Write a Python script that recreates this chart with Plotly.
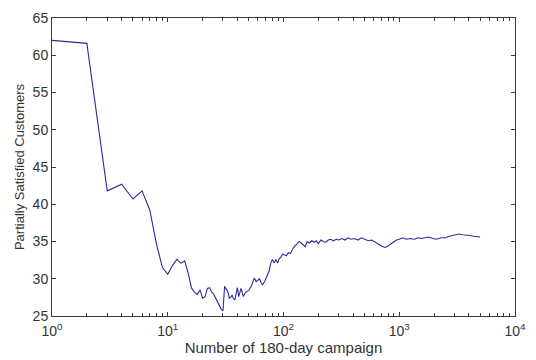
import plotly.graph_objects as go

campaigns = [1, 2, 3, 4, 5, 6, 7, 8, 9, 10, 11, 12, 13, 14, 15, 16, 17, 18, 19, 20,
             21, 22, 23, 24, 25, 26, 27, 28, 29, 30, 31, 32, 33, 34, 35, 36, 37, 38,
             40, 41, 43, 45, 47, 50, 53, 56, 58, 60, 62, 64, 66, 69, 72, 75, 78, 80,
             83, 86, 89, 92, 95, 98, 102, 106, 110, 115, 120, 125, 130, 136, 142, 148,
             154, 160, 168, 176, 184, 192, 200, 210, 220, 232, 244, 256, 270, 285, 300,
             320, 340, 360, 385, 410, 440, 470, 500, 540, 580, 620, 660, 700, 750, 800,
             850, 900, 950, 1000, 1070, 1150, 1250, 1350, 1450, 1550, 1650, 1800, 1950,
             2100, 2300, 2500, 2700, 2900, 3100, 3300, 3500, 3700, 3900, 4100, 4400,
             4700, 5000]

customers = [62.0, 61.6, 41.8, 42.7, 40.7, 41.8, 39.2, 34.6, 31.5, 30.6, 31.8, 32.6,
             32.1, 32.4, 30.8, 28.8, 28.2, 27.9, 28.5, 27.4,
             27.6, 28.7, 28.8, 28.2, 27.9, 27.4, 26.9, 26.5, 25.9, 25.7, 29.0, 28.6,
             28.3, 27.4, 27.5, 27.8, 27.3, 27.2,
             28.8, 27.6, 28.7, 27.6, 28.2, 28.4, 29.1, 30.1, 29.6, 29.8, 30.0, 29.5,
             29.2, 29.7, 30.3, 31.0, 32.2, 32.6,
             32.1, 32.6, 32.1, 32.7, 32.9, 33.3, 33.2, 33.1, 33.5, 33.4, 34.0, 34.4,
             34.6, 35.0, 34.8, 34.6,
             34.3, 35.0, 34.8, 35.1, 34.9, 35.1, 34.7, 35.2, 35.0, 34.9, 35.2, 35.3,
             35.1, 35.3, 35.2,
             35.4, 35.2, 35.5, 35.3, 35.4, 35.2, 35.5, 35.3, 35.1, 35.2, 34.9, 34.6,
             34.4, 34.2, 34.4,
             34.7, 35.0, 35.2, 35.3, 35.5, 35.3, 35.4, 35.3, 35.5, 35.4, 35.5, 35.6,
             35.4,
             35.3, 35.5, 35.5, 35.7, 35.8, 35.9, 36.0, 35.9, 35.9, 35.8, 35.8, 35.7,
             35.7, 35.6]

y_ticks = [25, 30, 35, 40, 45, 50, 55, 60, 65]
x_ticks = [1, 10, 100, 1000, 10000]
x_ticktext = ["10<sup>0</sup>", "10<sup>1</sup>", "10<sup>2</sup>",
              "10<sup>3</sup>", "10<sup>4</sup>"]
x_minor = [m * 10 ** d for d in range(4) for m in range(2, 10)]

axis_col = "#3a3a3a"
font_fam = "Liberation Sans, Arial, sans-serif"

fig = go.Figure()
fig.add_trace(go.Scatter(
    x=campaigns, y=customers, mode="lines",
    line=dict(color="#2b2ba0", width=1.1),
    showlegend=False,
))

minor_cfg = dict(tickvals=x_minor, ticks="inside", ticklen=3,
                 tickcolor=axis_col, showgrid=False)

fig.update_layout(
    width=536, height=360,
    margin=dict(l=52, r=10, t=13, b=39),
    paper_bgcolor="white", plot_bgcolor="white",
    font=dict(family=font_fam, size=14, color="#333333"),
    xaxis=dict(
        type="log", range=[0, 4], tickvals=x_ticks, ticktext=x_ticktext,
        showline=True, linecolor=axis_col, linewidth=1, mirror="ticks",
        ticks="inside", ticklen=4, tickcolor=axis_col,
        minor=minor_cfg,
        showgrid=False, zeroline=False,
        tickfont=dict(size=14), ticklabelstandoff=2, ticklabeloverflow="allow",
        title=dict(text="Number of 180-day campaign", font=dict(size=15), standoff=1),
    ),
    xaxis2=dict(
        type="log", range=[0, 4], overlaying="x", side="top", anchor="y",
        tickvals=x_ticks, showticklabels=False,
        ticks="inside", ticklen=4, tickcolor=axis_col,
        minor=minor_cfg,
        showgrid=False, zeroline=False, showline=False,
    ),
    yaxis=dict(
        range=[25, 65], tickvals=y_ticks,
        showline=True, linecolor=axis_col, linewidth=1, mirror="ticks",
        ticks="inside", ticklen=4, tickcolor=axis_col,
        showgrid=False, zeroline=False,
        tickfont=dict(size=14),
        title=dict(text="Partially Satisfied Customers", font=dict(size=13), standoff=5),
    ),
)

fig.write_html("out.html")
